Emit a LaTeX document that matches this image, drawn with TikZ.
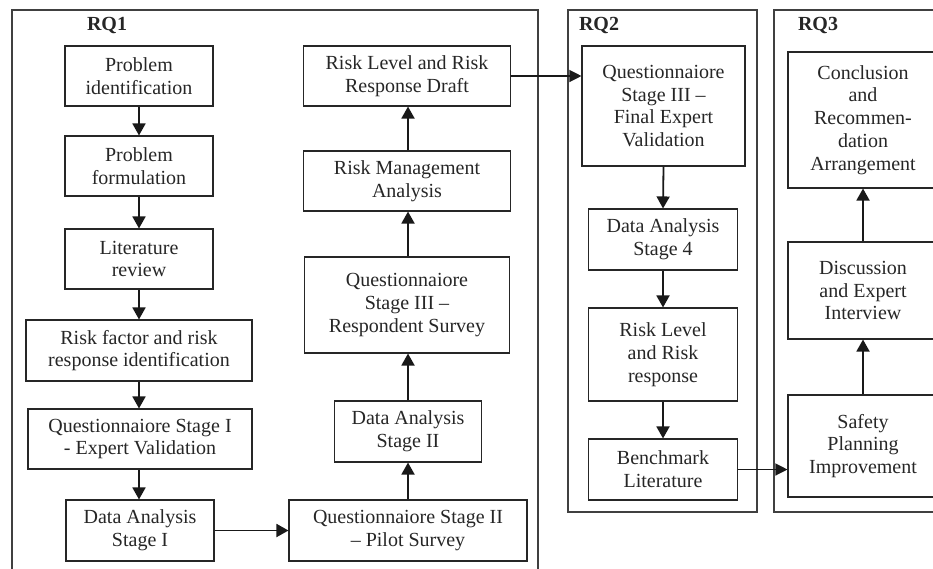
\documentclass[tikz,border=0pt]{standalone}
\usepackage{fontspec}
\setmainfont{Liberation Serif}
\usetikzlibrary{arrows.meta,calc}
\begin{document}
\begin{tikzpicture}[x=1pt,y=-1pt,
  frame/.style={draw=black!75,line width=1.3pt},
  boxnode/.style={draw=black!85,line width=1.1pt,align=center,inner sep=0pt,
     font=\fontsize{20}{22.8}\selectfont,text=black!85},
  rqlabel/.style={font=\fontsize{20}{22}\selectfont\bfseries,text=black!85,inner sep=0pt},
  arr/.style={draw=black!90,line width=1.8pt,-{Triangle[length=12pt,width=13pt]}},
  harr/.style={draw=black!90,line width=1.2pt,-{Triangle[length=12pt,width=12pt]}}]
\useasboundingbox (0,0) rectangle (933,568);
\begin{scope}
\clip (0,0) rectangle (933,568);
% frames
\draw[frame] (12,10) rectangle (538,590);
\draw[frame] (568,10) rectangle (757,512);
\draw[frame] (774,10) rectangle (960,512);
\node[rqlabel] (rq1) at (107,25) {RQ1};
\node[rqlabel] (rq2) at (599,25) {RQ2};
\node[rqlabel] (rq3) at (818,25) {RQ3};
% RQ1 left column
\node[boxnode,minimum width=148,minimum height=60] (p1) at (139,76) {Problem\\identification};
\node[boxnode,minimum width=148,minimum height=60] (p2) at (139,166) {Problem\\formulation};
\node[boxnode,minimum width=148,minimum height=60] (p3) at (139,259) {Literature\\review};
\node[boxnode,minimum width=226,minimum height=61] (p4) at (139,350.5) {Risk factor and risk\\response identification};
\node[boxnode,minimum width=224,minimum height=60] (p5) at (140,439) {Questionnaiore Stage I\\- Expert Validation};
\node[boxnode,minimum width=148,minimum height=61] (p6) at (140,530.5) {Data Analysis\\Stage I};
% RQ1 right column
\node[boxnode,minimum width=238,minimum height=61] (p7) at (408,530.5) {Questionnaiore Stage II\\-- Pilot Survey};
\node[boxnode,minimum width=147,minimum height=61] (p8) at (408,431.5) {Data Analysis\\Stage II};
\node[boxnode,minimum width=205,minimum height=96] (p9) at (407,305) {Questionnaiore\\Stage III --\\Respondent Survey};
\node[boxnode,minimum width=207,minimum height=60] (p10) at (407,181) {Risk Management\\Analysis};
\node[boxnode,minimum width=207,minimum height=60] (p11) at (407,76) {Risk Level and Risk\\Response Draft};
% RQ2
\node[boxnode,minimum width=163,minimum height=120] (q1) at (663.5,106) {Questionnaiore\\Stage III --\\Final Expert\\Validation};
\node[boxnode,minimum width=149,minimum height=61] (q2) at (663,239.5) {Data Analysis\\Stage 4};
\node[boxnode,minimum width=149,minimum height=93] (q3) at (663,354.5) {Risk Level\\and Risk\\response};
\node[boxnode,minimum width=149,minimum height=61] (q4) at (663,469.5) {Benchmark\\Literature};
% RQ3
\node[boxnode,minimum width=150,minimum height=136] (r1) at (863,120) {Conclusion\\and\\Recommen-\\dation\\Arrangement};
\node[boxnode,minimum width=150,minimum height=97] (r2) at (863,290.5) {Discussion\\and Expert\\Interview};
\node[boxnode,minimum width=150,minimum height=102] (r3) at (863,446) {Safety\\Planning\\Improvement};
% connectors
\draw[arr] (p1.south) -- (p2.north);
\draw[arr] (p2.south) -- (p3.north);
\draw[arr] (p3.south) -- (p4.north);
\draw[arr] (p4.south) -- (p4.south |- p5.north);
\draw[arr] (p5.south -| p4.south) -- (p4.south |- p6.north);
\draw[arr] (p6.east) -- (p6.east -| p7.west);
\draw[arr] (p7.north) -- (p8.north |- p8.south);
\draw[arr] (p8.north) -- (p8.north |- p9.south);
\draw[arr] (p9.north -| p8.north) -- (p8.north |- p10.south);
\draw[arr] (p10.north -| p8.north) -- (p8.north |- p11.south);
\draw[harr] (p11.east) -- (p11.east -| q1.west);
\draw[arr] (q1.south) -- (q2.north);
\draw[arr] (q2.south) -- (q3.north);
\draw[arr] (q3.south) -- (q4.north);
\draw[harr] (q4.east) -- (q4.east -| r3.west);
\draw[arr] (r3.north) -- (r2.south);
\draw[arr] (r2.north) -- (r1.south);
\end{scope}
\end{tikzpicture}
\end{document}
